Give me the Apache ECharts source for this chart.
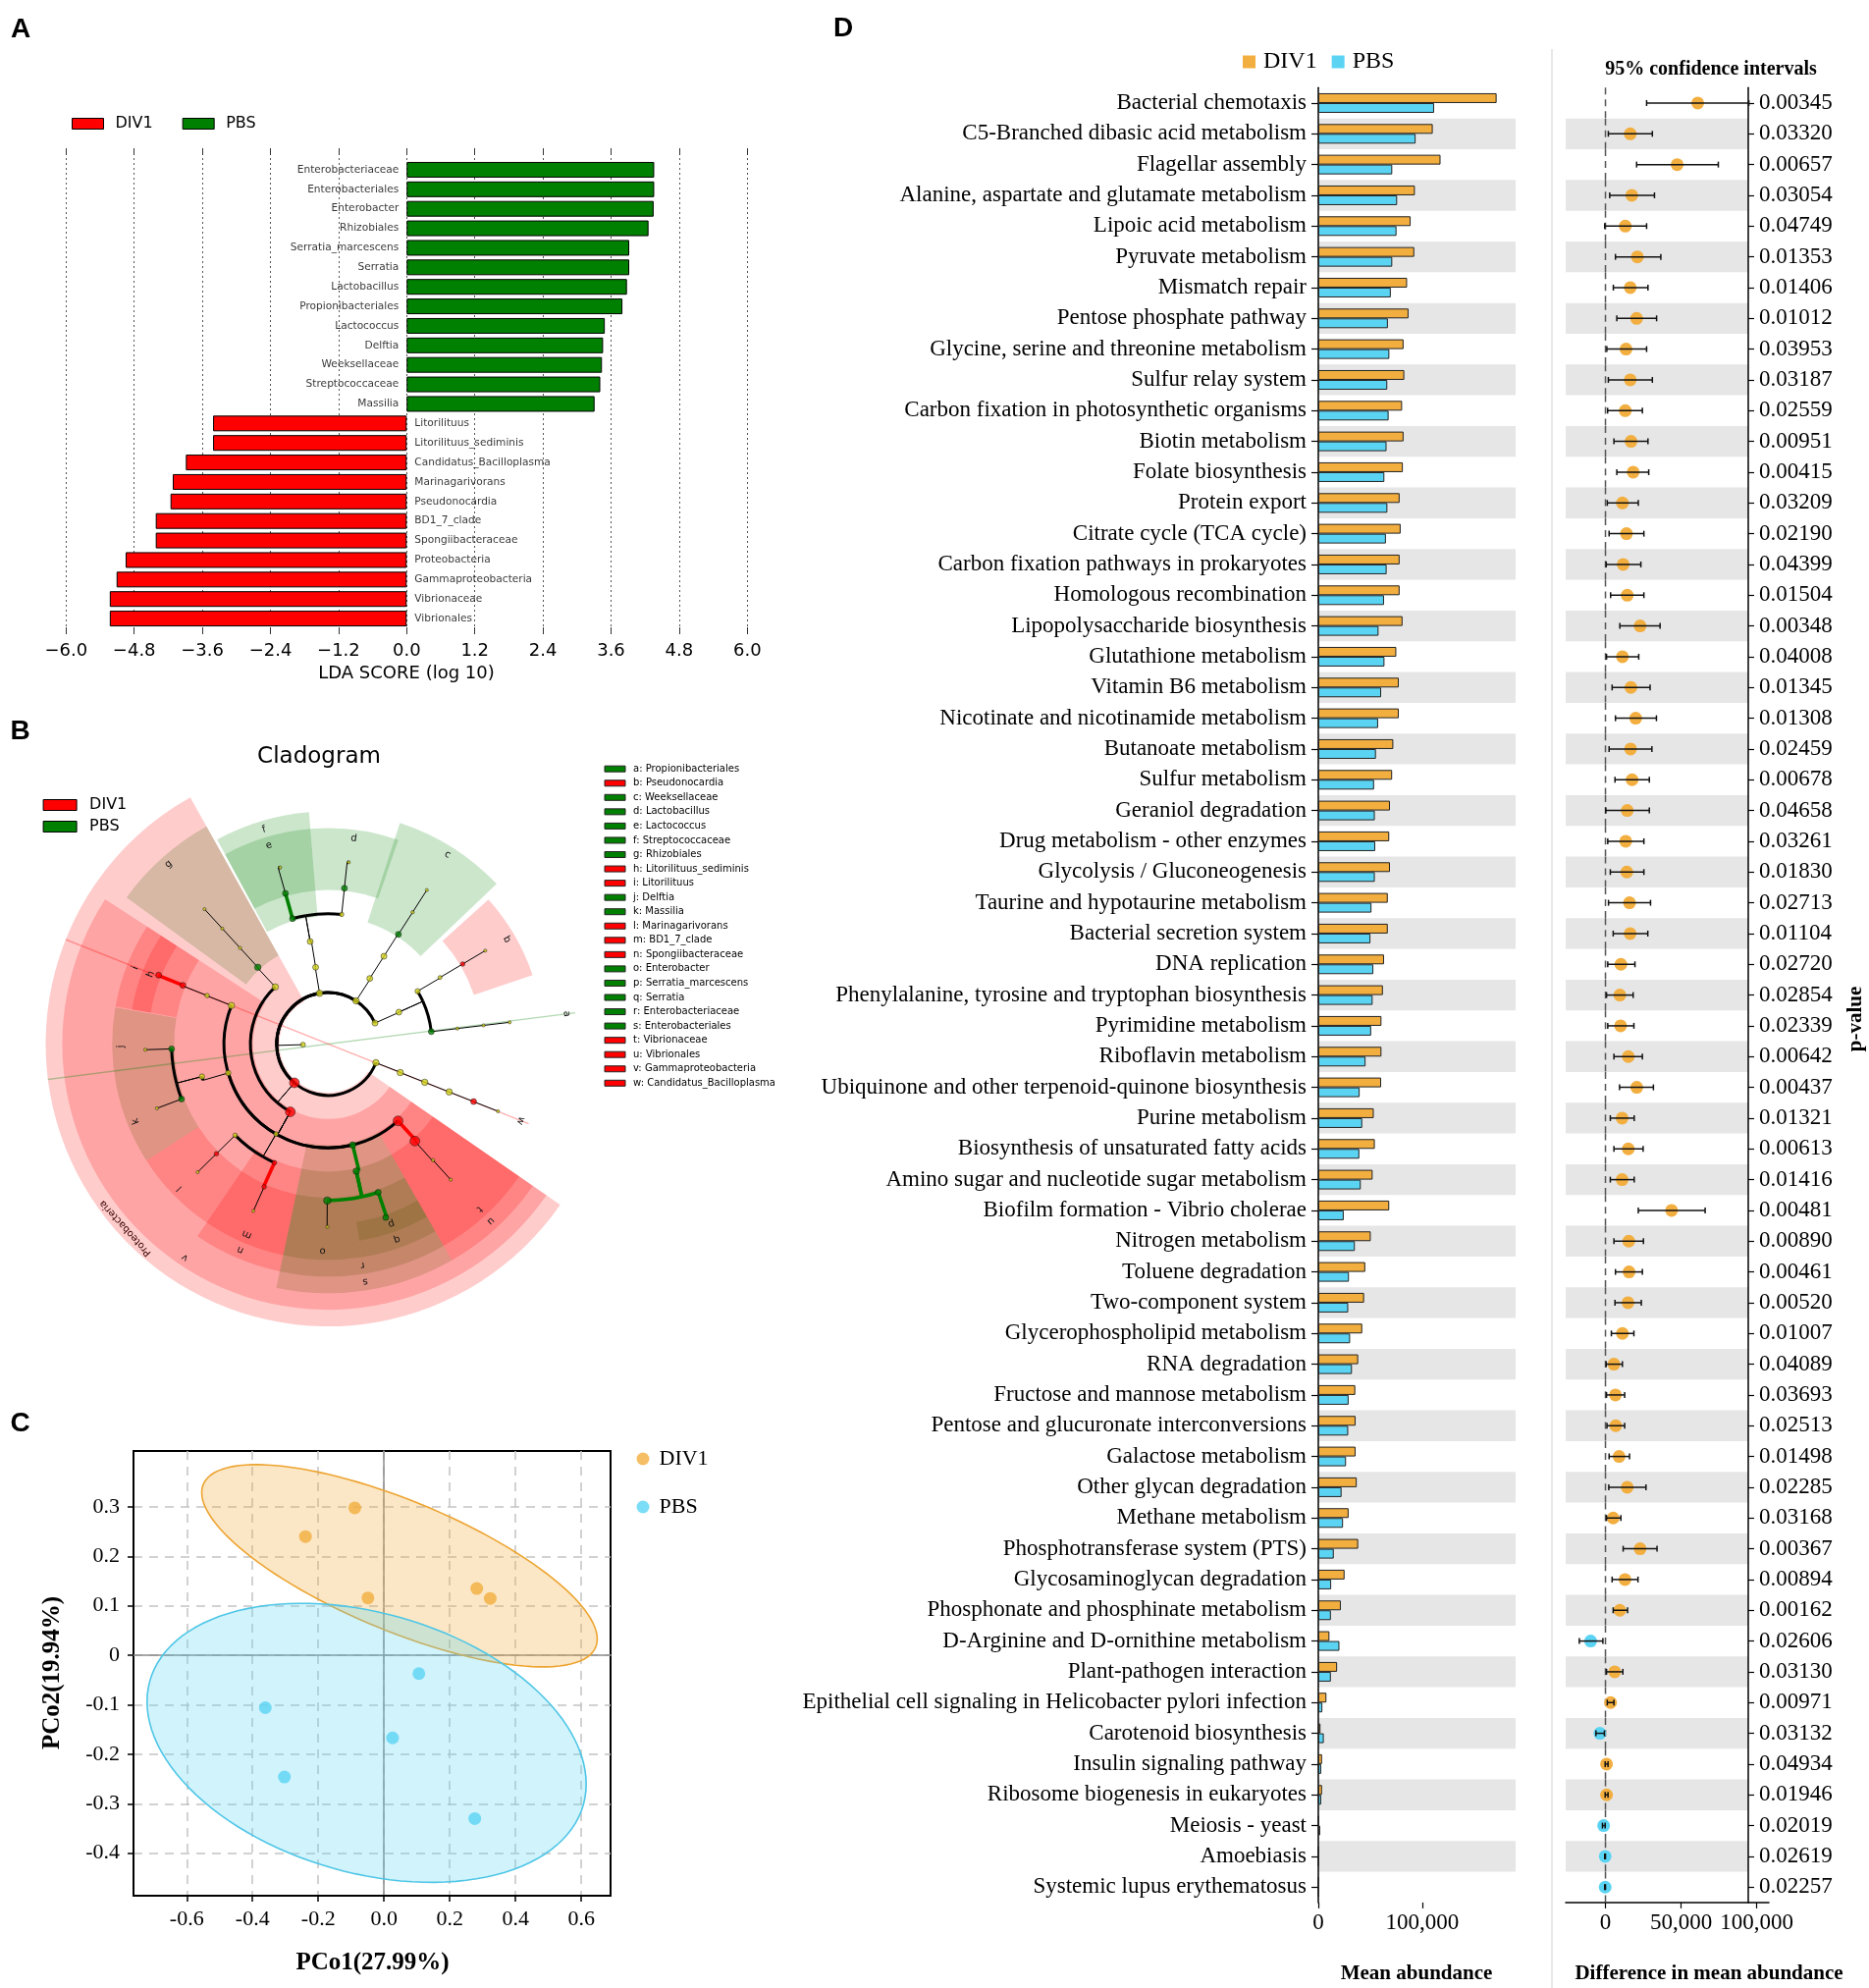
<!DOCTYPE html>
<html><head><meta charset="utf-8">
<script src="https://cdn.jsdelivr.net/npm/echarts@6/dist/echarts.min.js"></script>
<style>html,body{margin:0;padding:0;background:#fff;}
#wrap{position:relative;width:1904px;height:2025px;}
.layer{position:absolute;left:0;top:0;width:1904px;height:2025px;}</style>
</head><body><div id="wrap">
<div id="chartA" class="layer"></div><div id="chartB" class="layer"></div>
<div id="chartC" class="layer"></div><div id="chartD" class="layer"></div></div>
<script>
// ================= Panel A : LDA scores =================
const ldaTaxa = ['Enterobacteriaceae','Enterobacteriales','Enterobacter','Rhizobiales','Serratia_marcescens','Serratia','Lactobacillus','Propionibacteriales','Lactococcus','Delftia','Weeksellaceae','Streptococcaceae','Massilia','Litorilituus','Litorilituus_sediminis','Candidatus_Bacilloplasma','Marinagarivorans','Pseudonocardia','BD1_7_clade','Spongiibacteraceae','Proteobacteria','Gammaproteobacteria','Vibrionaceae','Vibrionales'];
const ldaScores = [4.36,4.36,4.35,4.26,3.92,3.92,3.88,3.80,3.49,3.46,3.44,3.41,3.31,-3.41,-3.41,-3.89,-4.12,-4.16,-4.42,-4.42,-4.95,-5.11,-5.23,-5.23];

// ================= Panel B : cladogram =================
// node: [name, parent, level, angle (deg, clockwise from 3 o'clock), group, size]
const cladeNodes = [
 ['root',null,-0.954,178.4,'n',0],
 ['Firmicutes','root',1,260.5,'n',6.5],
 ['Bacteroidetes','root',1,303,'n',6.5],
 ['Actinobacteria','root',1,336,'n',6],
 ['Tenericutes','root',1,21.4,'n',6.5],
 ['Proteobacteria','root',1,130.9,'DIV1',10],
 ['Phylum_x','root',0,178.4,'n',5],
 ['Bacilli','Firmicutes',2,260.8,'n',6],
 ['Lactobacillales','Bacilli',3,260.1,'n',6],
 ['Streptococcaceae','Lactobacillales',4,254.2,'PBS',6],
 ['Lactobacillaceae','Lactobacillales',4,276,'n',4.5],
 ['Lactococcus','Streptococcaceae',5,254.2,'PBS',6],
 ['Lactobacillus','Lactobacillaceae',5,276,'PBS',6],
 ['Lactococcus_sp','Lactococcus',6,254.8,'n',3.2],
 ['Lactobacillus_sp','Lactobacillus',6,276.5,'n',3.2],
 ['Bacteroidia','Bacteroidetes',2,302.5,'n',6],
 ['Flavobacteriales','Bacteroidia',3,302.5,'n',6],
 ['Weeksellaceae','Flavobacteriales',4,302.7,'PBS',6],
 ['Weeks_g','Weeksellaceae',5,302.7,'n',3.4],
 ['Weeks_s','Weeks_g',6,302.7,'n',3.2],
 ['Actinobacteria_c','Actinobacteria',2,335.8,'n',6],
 ['Pseudonocardiales','Actinobacteria_c',3,329.5,'n',5.3],
 ['Pseudonocardiaceae','Pseudonocardiales',4,329.3,'n',4],
 ['Pseudonocardia','Pseudonocardiaceae',5,329.3,'DIV1',4.6],
 ['Pseudo_s','Pseudonocardia',6,329.3,'n',3.2],
 ['Propionibacteriales','Actinobacteria_c',3,353.2,'PBS',6],
 ['Propi_f','Propionibacteriales',4,353.2,'n',3.2],
 ['Propi_g','Propi_f',5,353.2,'n',3.2],
 ['Propi_s','Propi_g',6,353.2,'n',3.2],
 ['Mollicutes','Tenericutes',2,21.6,'n',6.5],
 ['Molli_o','Mollicutes',3,21.6,'n',6.5],
 ['Molli_f','Molli_o',4,21.6,'n',6.5],
 ['Candidatus_Bacilloplasma','Molli_f',5,21.6,'DIV1',6],
 ['Bacillo_s','Candidatus_Bacilloplasma',6,21.6,'n',3.2],
 ['Alphaproteobacteria','Proteobacteria',2,227.2,'n',6.5],
 ['Rhizobiales','Alphaproteobacteria',3,227.5,'PBS',6.5],
 ['Rhizo_f','Rhizobiales',4,227.5,'n',3.4],
 ['Rhizo_g','Rhizo_f',5,227.5,'n',3.2],
 ['Rhizo_s','Rhizo_g',6,227.5,'n',3.2],
 ['Gammaproteobacteria','Proteobacteria',2,119.1,'DIV1',10],
 ['Alteromonadales','Gammaproteobacteria',3,201.7,'n',6.5],
 ['Alteromonadaceae','Alteromonadales',4,201.8,'n',4.6],
 ['Litorilituus','Alteromonadaceae',5,202,'DIV1',6],
 ['Litorilituus_sediminis','Litorilituus',6,202.1,'DIV1',6],
 ['Burkholderiales','Gammaproteobacteria',3,163.8,'n',5.5],
 ['Burk_f','Burkholderiales',4,165.5,'n',5.5],
 ['Delftia','Burk_f',5,178.2,'PBS',6],
 ['Massilia','Burk_f',5,159.4,'PBS',6],
 ['Delftia_s','Delftia',6,178.2,'n',3.3],
 ['Massilia_s','Massilia',6,159.4,'n',3.3],
 ['Cellvibrionales','Gammaproteobacteria',3,120,'n',4.6],
 ['Cellvibrionaceae','Cellvibrionales',4,135.5,'n',4.6],
 ['Marinagarivorans','Cellvibrionaceae',5,135.5,'DIV1',4.6],
 ['Marina_s','Marinagarivorans',6,135.5,'n',3.2],
 ['Spongiibacteraceae','Cellvibrionales',4,114.3,'DIV1',4.6],
 ['BD1_7_clade','Spongiibacteraceae',5,114.1,'DIV1',4.6],
 ['BD1_s','BD1_7_clade',6,114.1,'n',3.2],
 ['Enterobacteriales','Gammaproteobacteria',3,76.3,'PBS',6.5],
 ['Enterobacteriaceae','Enterobacteriales',4,77.5,'PBS',6.5],
 ['Enterobacter','Enterobacteriaceae',5,90.3,'PBS',7.5],
 ['Serratia','Enterobacteriaceae',5,71.3,'PBS',6],
 ['Enterobacter_s','Enterobacter',6,90.2,'n',3.2],
 ['Serratia_marcescens','Serratia',6,71.6,'PBS',6],
 ['Vibrionales','Gammaproteobacteria',3,47.7,'DIV1',10],
 ['Vibrionaceae','Vibrionales',4,48.2,'DIV1',10],
 ['Vibrio_g','Vibrionaceae',5,47.9,'n',3.4],
 ['Vibrio_s','Vibrio_g',6,47.9,'n',3.2]
];
// highlighted clades: [label, level, startAngle, endAngle]
const cladeWedges = [
 ['Proteobacteria',1,34.7,240.8],
 ['v',2,34.7,213],
 ['u',3,34.7,60.2],['t',4,34.7,60.2],
 ['s',3,60.2,102],['r',4,60.2,102],
 ['o',5,81,102],['q',5,60.2,81],['p',6,60.2,81],
 ['n',4,102,124.2],['m',5,102,124.2],
 ['l',5,124.2,147.3],['k',5,147.3,169],['j',5,169,189.7],
 ['i',5,190,213],['h',6,190,213],
 ['g',3,216,240.8],
 ['f',4,241.5,265.3],['e',5,241.5,265.3],['d',5,265.3,289],
 ['c',4,288,316.5],['b',5,318,341.4],
 ['a',3,352.8,352.8],['w',5,21.7,21.7]
];
const keyLetters = ['a','b','c','d','e','f','g','h','i','j','k','l','m','n','o','p','q','r','s','t','u','v','w'];
const keyNames = ['Propionibacteriales','Pseudonocardia','Weeksellaceae','Lactobacillus','Lactococcus','Streptococcaceae','Rhizobiales','Litorilituus_sediminis','Litorilituus','Delftia','Massilia','Marinagarivorans','BD1_7_clade','Spongiibacteraceae','Enterobacter','Serratia_marcescens','Serratia','Enterobacteriaceae','Enterobacteriales','Vibrionaceae','Vibrionales','Gammaproteobacteria','Candidatus_Bacilloplasma'];
const keyGroups = ['PBS','DIV1','PBS','PBS','PBS','PBS','PBS','DIV1','DIV1','PBS','PBS','DIV1','DIV1','DIV1','PBS','PBS','PBS','PBS','PBS','DIV1','DIV1','DIV1','DIV1'];

// ================= Panel C : PCoA =================
const pcoDiv1X = [-0.089,-0.239,-0.049,0.282,0.323];
const pcoDiv1Y = [0.298,0.240,0.116,0.135,0.115];
const pcoPbsX = [0.106,-0.361,0.026,-0.303,0.276];
const pcoPbsY = [-0.037,-0.106,-0.167,-0.246,-0.330];
const ellipseCx = [0.047,-0.053];
const ellipseCy = [0.181,-0.177];
const ellipseSxx = [0.3618,0.446];
const ellipseSxy = [-0.089,-0.0556];
const ellipseSyy = [0.0418,0.0795];
const pcoXTicks = [-0.6,-0.4,-0.2,0,0.2,0.4,0.6];
const pcoYTicks = [-0.4,-0.3,-0.2,-0.1,0,0.1,0.2,0.3];

// ================= Panel D : extended error bar =================
const pathways = ['Bacterial chemotaxis','C5-Branched dibasic acid metabolism','Flagellar assembly','Alanine, aspartate and glutamate metabolism','Lipoic acid metabolism','Pyruvate metabolism','Mismatch repair','Pentose phosphate pathway','Glycine, serine and threonine metabolism','Sulfur relay system','Carbon fixation in photosynthetic organisms','Biotin metabolism','Folate biosynthesis','Protein export','Citrate cycle (TCA cycle)','Carbon fixation pathways in prokaryotes','Homologous recombination','Lipopolysaccharide biosynthesis','Glutathione metabolism','Vitamin B6 metabolism','Nicotinate and nicotinamide metabolism','Butanoate metabolism','Sulfur metabolism','Geraniol degradation','Drug metabolism - other enzymes','Glycolysis / Gluconeogenesis','Taurine and hypotaurine metabolism','Bacterial secretion system','DNA replication','Phenylalanine, tyrosine and tryptophan biosynthesis','Pyrimidine metabolism','Riboflavin metabolism','Ubiquinone and other terpenoid-quinone biosynthesis','Purine metabolism','Biosynthesis of unsaturated fatty acids','Amino sugar and nucleotide sugar metabolism','Biofilm formation - Vibrio cholerae','Nitrogen metabolism','Toluene degradation','Two-component system','Glycerophospholipid metabolism','RNA degradation','Fructose and mannose metabolism','Pentose and glucuronate interconversions','Galactose metabolism','Other glycan degradation','Methane metabolism','Phosphotransferase system (PTS)','Glycosaminoglycan degradation','Phosphonate and phosphinate metabolism','D-Arginine and D-ornithine metabolism','Plant-pathogen interaction','Epithelial cell signaling in Helicobacter pylori infection','Carotenoid biosynthesis','Insulin signaling pathway','Ribosome biogenesis in eukaryotes','Meiosis - yeast','Amoebiasis','Systemic lupus erythematosus'];
const div1Mean = [171700,110200,117700,93000,88900,92400,85500,86900,82100,82800,80700,82100,81400,78300,79300,78300,78300,81100,75100,77500,77500,72200,71100,69000,68300,69000,66900,66900,63300,62200,60800,60800,60500,53400,54400,52300,68300,50500,45200,44100,42300,38400,35600,35900,35900,37000,29200,38400,25300,21700,10700,18100,7800,2100,3600,3600,300,100,50];
const pbsMean = [111500,93700,71200,75900,75300,71200,69800,67000,68400,66400,67700,65700,63600,66500,65100,65800,63300,58000,63700,60500,57600,55500,53700,54400,54800,54400,51200,50200,53000,52300,50900,45500,39800,42300,39500,40900,24500,35200,29500,28800,30600,32400,29200,28800,26700,22400,23800,14900,12400,12100,20300,12100,3900,5300,2800,2800,1800,300,200];
const meanDiff = [61000,16400,47400,17400,13100,21100,16400,20600,13600,16400,13100,16900,18300,11200,13900,11700,14400,22900,11200,16800,20000,16600,17600,14400,13400,14100,15900,16300,10200,9500,10000,15100,20700,11000,15100,11000,43700,15400,15600,14900,11200,5600,6600,6800,9000,14400,5100,22900,12900,9500,-9800,6100,3400,-3700,700,700,-1200,-200,-200];
const ciLow = [27200,1900,20600,2800,-500,6600,5200,7500,900,1900,1400,5600,7500,1200,2400,500,3400,9500,700,4400,6600,2400,6300,200,1500,3200,2000,5100,1500,700,1500,5600,9300,3200,5600,3200,21700,5600,6600,6300,3900,500,700,1000,2400,2200,700,11700,4400,5100,-17300,700,1200,-6300,-200,-200,-2000,-500,-500];
const ciHigh = [94800,31000,74600,32400,27200,36600,28100,33800,27200,31000,24400,28100,28600,21700,25400,23400,25400,36100,22000,29500,33700,30700,29000,29000,25400,25400,29800,28000,19500,18300,18800,24400,31700,19000,24900,19000,65900,25100,24400,23700,18800,11200,12700,12700,15900,26800,10200,34100,21500,14600,-1700,11500,5600,-700,1700,1700,-200,0,0];
const pValues = ['0.00345','0.03320','0.00657','0.03054','0.04749','0.01353','0.01406','0.01012','0.03953','0.03187','0.02559','0.00951','0.00415','0.03209','0.02190','0.04399','0.01504','0.00348','0.04008','0.01345','0.01308','0.02459','0.00678','0.04658','0.03261','0.01830','0.02713','0.01104','0.02720','0.02854','0.02339','0.00642','0.00437','0.01321','0.00613','0.01416','0.00481','0.00890','0.00461','0.00520','0.01007','0.04089','0.03693','0.02513','0.01498','0.02285','0.03168','0.00367','0.00894','0.00162','0.02606','0.03130','0.00971','0.03132','0.04934','0.01946','0.02019','0.02619','0.02257'];
const abundanceTicks = [0,100000];
const diffTicks = [0,50000,100000];

// ================= styling constants =================
const ORANGE = '#F2AE3F', CYAN = '#5BD4F4';
const RED = '#FF0000', GREEN = '#008000', YELLOW = '#d2d21c';
const SERIF = 'Liberation Serif', SANS = 'DejaVu Sans';
const groupColor = {DIV1: RED, PBS: GREEN};
const wedgeColor = {DIV1: 'rgba(255,0,0,0.2)', PBS: 'rgba(0,128,0,0.2)'};
const lineColor = {DIV1: 'rgba(255,0,0,0.3)', PBS: 'rgba(0,128,0,0.3)'};
const R_MIN = -0.954, R_MAX = 9.787;
const outerLevel = L => R_MAX - 0.633 * (L - 1);
const fmtComma = v => Math.round(v).toLocaleString('en-US');
const serifLabel = size => ({fontFamily:SERIF, fontSize:size, color:'#000'});
const txt = (x, y, text, font, rot, align) => {
  const o = {type:'text', x, y, style:{text, font, fill:'#000', align:align||'center', verticalAlign:'middle'}};
  if (rot !== undefined) o.rotation = rot;
  return o;
};
function draw(id, option) {
  try {
    const c = echarts.init(document.getElementById(id), null, {width:1904, height:2025});
    c.setOption(option);
  } catch (e) { console.error('panel ' + id + ' failed: ' + e.message); }
}

// ---------------- chart A ----------------
draw('chartA', {
  backgroundColor:'#fff', animation:false,
  textStyle:{fontFamily:SANS, color:'#000'},
  grid:[
    {left:67.3, top:163, width:694, height:477, outerBoundsMode:'none'},
    {left:67.3, top:151, width:694, height:495, outerBoundsMode:'none'}
  ],
  xAxis:[
    {gridIndex:0, type:'value', min:-6, max:6, show:false},
    {gridIndex:1, type:'value', min:-6, max:6, interval:1.2, position:'bottom',
      axisLine:{show:false}, axisTick:{show:true, inside:true, length:7, lineStyle:{color:'#333', width:1}},
      axisLabel:{fontFamily:SANS, fontSize:18, color:'#000', margin:8, formatter:v => Math.abs(v) < 1e-9 ? '0.0' : (v < 0 ? '\u2212' : '') + Math.abs(v).toFixed(1)},
      splitLine:{show:true, lineStyle:{color:'#555', type:[2,3], width:1}}},
    {gridIndex:1, type:'value', min:-6, max:6, interval:1.2, position:'top',
      axisLine:{show:false}, axisTick:{show:true, inside:true, length:7, lineStyle:{color:'#333', width:1}},
      axisLabel:{show:false}, splitLine:{show:false}}
  ],
  yAxis:[
    {gridIndex:0, type:'category', data:ldaTaxa, inverse:true, show:false},
    {gridIndex:1, type:'value', min:0, max:1, show:false}
  ],
  legend:{left:73, top:118, padding:0, orient:'horizontal', itemWidth:32, itemHeight:11, itemGap:30, selectedMode:false,
    textStyle:{fontFamily:SANS, fontSize:16, color:'#000', padding:[0,0,0,7]},
    data:[{name:'DIV1', icon:'rect', itemStyle:{color:RED, borderColor:'#000', borderWidth:1}},
          {name:'PBS', icon:'rect', itemStyle:{color:GREEN, borderColor:'#000', borderWidth:1}}]},
  graphic:[
    txt(21, 30, 'A', 'bold 28px "Liberation Sans"'),
    txt(414, 686, 'LDA SCORE (log 10)', '18px "DejaVu Sans"')
  ],
  series:[
    {type:'bar', name:'PBS', xAxisIndex:0, yAxisIndex:0, barWidth:16, barGap:'-100%',
      data:ldaScores.map(v => v > 0 ? v : '-'),
      itemStyle:{color:GREEN, borderColor:'#000', borderWidth:1}},
    {type:'bar', name:'DIV1', xAxisIndex:0, yAxisIndex:0, barWidth:16, barGap:'-100%',
      data:ldaScores.map(v => v < 0 ? v : '-'),
      itemStyle:{color:RED, borderColor:'#000', borderWidth:1}},
    {type:'scatter', name:'ldaLabels', xAxisIndex:0, yAxisIndex:0, symbolSize:1, silent:true,
      itemStyle:{color:'rgba(0,0,0,0)'},
      data:ldaTaxa.map((t, i) => ({value:[0, i], label:{position: ldaScores[i] > 0 ? 'left' : 'right'}})),
      label:{show:true, distance:7.5, fontFamily:SANS, fontSize:10.6, color:'#000', formatter:p => ldaTaxa[p.dataIndex]}}
  ]
});

// ---------------- chart B ----------------
const nodeIndex = {};
cladeNodes.forEach((n, i) => nodeIndex[n[0]] = i);
const groupOfLetter = {};
keyLetters.forEach((l, i) => groupOfLetter[l] = keyGroups[i]);
const wedgeGroup = w => w[0] === 'Proteobacteria' ? 'DIV1' : groupOfLetter[w[0]];
// deepest clades are painted first, the shallower (phylum/class) shading is laid over them
const wedgeOrder = cladeWedges.map((w, i) => i).sort((a, b) => {
  const wa = cladeWedges[a], wb = cladeWedges[b];
  const la = wa[2] === wa[3] ? -10 : wa[1], lb = wb[2] === wb[3] ? -10 : wb[1];
  return lb - la;
});
let cladeEdges = [];
cladeNodes.forEach(n => {
  if (n[1] === null) return;
  const p = cladeNodes[nodeIndex[n[1]]];
  if (p[1] === null) {
    cladeEdges.push({kind:'radial', la:1, lb:n[2], ang:n[3], color:'#000', width:1, colored:false});
    cladeEdges.push({kind:'arc', l:1, a:p[3], b:n[3], color:'#000', width:3, colored:false});
  } else {
    const colored = p[2] >= 3 && p[4] !== 'n' && p[4] === n[4];
    const col = colored ? groupColor[n[4]] : '#000';
    cladeEdges.push({kind:'radial', la:p[2], lb:n[2], ang:p[3], color:col, width:colored?3.6:1, colored});
    cladeEdges.push({kind:'arc', l:n[2], a:p[3], b:n[3], color:col, width:colored?3.6:3, colored});
  }
});
cladeEdges = cladeEdges.filter(e => !e.colored).concat(cladeEdges.filter(e => e.colored));
const keyGraphics = [];
keyLetters.forEach((l, i) => {
  const y = 783.2 + i * 14.55;
  keyGraphics.push({type:'rect', shape:{x:616, y:y-3, width:21, height:6}, style:{fill:groupColor[keyGroups[i]], stroke:'#222', lineWidth:1}});
  keyGraphics.push(txt(645, y, l + ': ' + keyNames[i], '10px "DejaVu Sans"', undefined, 'left'));
});
draw('chartB', {
  animation:false,
  textStyle:{fontFamily:SANS, color:'#000'},
  polar:{center:[334.2, 1063.4], radius:287.7},
  angleAxis:{type:'value', min:0, max:360, startAngle:0, clockwise:true, show:false},
  radiusAxis:{type:'value', min:R_MIN, max:R_MAX, show:false},
  legend:{left:43.6, top:812, padding:0, orient:'vertical', itemWidth:34, itemHeight:11, itemGap:6, selectedMode:false,
    textStyle:{fontFamily:SANS, fontSize:16, color:'#000', padding:[0,0,0,8]},
    data:[{name:'DIV1', icon:'rect', itemStyle:{color:RED, borderColor:'#000', borderWidth:1}},
          {name:'PBS', icon:'rect', itemStyle:{color:GREEN, borderColor:'#000', borderWidth:1}}]},
  graphic:[txt(20.5, 745, 'B', 'bold 28px "Liberation Sans"'), txt(325, 771, 'Cladogram', '23px "DejaVu Sans"')].concat(keyGraphics),
  series:[
    {type:'custom', name:'DIV1', coordinateSystem:'polar', z:1, silent:true,
      data:wedgeOrder.map(i => [cladeWedges[i][1], (cladeWedges[i][2] + cladeWedges[i][3]) / 2]),
      renderItem:(params, api) => {
        const w = cladeWedges[wedgeOrder[params.dataIndex]];
        const c0 = api.coord([R_MIN, 0]);
        const cx = c0[0], cy = c0[1];
        const g = wedgeGroup(w);
        const rad = L => { const p = api.coord([L, 0]); return Math.hypot(p[0] - cx, p[1] - cy); };
        if (w[2] === w[3]) {
          const p1 = api.coord([outerLevel(w[1]), w[2]]), p2 = api.coord([outerLevel(1), w[2] + 180]);
          return {type:'line', shape:{x1:p1[0], y1:p1[1], x2:p2[0], y2:p2[1]}, style:{stroke:lineColor[g], lineWidth:1.4}};
        }
        return {type:'sector', shape:{cx, cy, r0:rad(w[1] - 0.1), r:rad(outerLevel(w[1])),
          startAngle:w[2] * Math.PI / 180, endAngle:w[3] * Math.PI / 180, clockwise:true},
          style:{fill:wedgeColor[g]}};
      }},
    {type:'custom', name:'PBS', coordinateSystem:'polar', z:3, silent:true,
      data:cladeEdges.map(e => e.kind === 'radial' ? [e.lb, e.ang] : [e.l, e.b]),
      renderItem:(params, api) => {
        const e = cladeEdges[params.dataIndex];
        const c0 = api.coord([R_MIN, 0]);
        const cx = c0[0], cy = c0[1];
        if (e.kind === 'radial') {
          const p1 = api.coord([e.la, e.ang]), p2 = api.coord([e.lb, e.ang]);
          return {type:'line', shape:{x1:p1[0], y1:p1[1], x2:p2[0], y2:p2[1]}, style:{stroke:e.color, lineWidth:e.width}};
        }
        const p = api.coord([e.l, 0]);
        const r = Math.hypot(p[0] - cx, p[1] - cy);
        const a0 = Math.min(e.a, e.b) * Math.PI / 180, a1 = Math.max(e.a, e.b) * Math.PI / 180;
        if (a1 - a0 < 1e-4) return {type:'group', children:[]};
        return {type:'arc', shape:{cx, cy, r, startAngle:a0, endAngle:a1, clockwise:true},
          style:{stroke:e.color, lineWidth:e.width, fill:null}};
      }},
    {type:'scatter', name:'nodes', coordinateSystem:'polar', z:4, silent:true,
      data:cladeNodes.filter(n => n[1] !== null).map(n => ({value:[n[2], n[3]], symbolSize:n[5],
        itemStyle:{color: n[4] === 'n' ? YELLOW : groupColor[n[4]], borderColor:'#111', borderWidth:0.6}}))},
    {type:'custom', name:'cladeLabels', coordinateSystem:'polar', z:5, silent:true,
      data:cladeWedges.map(w => [outerLevel(w[1]) - 0.33, (w[2] + w[3]) / 2]),
      renderItem:(params, api) => {
        const w = cladeWedges[params.dataIndex];
        const mid = (w[2] + w[3]) / 2;
        const p = api.coord([outerLevel(w[1]) - 0.33, mid]);
        return {type:'text', x:p[0], y:p[1], rotation:-(mid + 90) * Math.PI / 180,
          style:{text:w[0], fill: w[0] === 'Proteobacteria' ? '#3a0000' : '#111', fontSize:10, fontFamily:SANS, align:'center', verticalAlign:'middle'}};
      }}
  ]
});

// ---------------- chart C ----------------
draw('chartC', {
  animation:false,
  textStyle:{fontFamily:SERIF, color:'#000'},
  grid:{left:136, top:1478, width:486, height:453, show:true, borderColor:'#000', borderWidth:2, outerBoundsMode:'none'},
  xAxis:[
    {type:'value', min:-0.762, max:0.689,
      axisLine:{onZero:false, lineStyle:{color:'#000', width:2}},
      axisTick:{show:true, length:6, customValues:pcoXTicks, lineStyle:{color:'#000', width:1.5}},
      axisLabel:Object.assign(serifLabel(22), {margin:13, customValues:pcoXTicks, formatter:v => v.toFixed(1)}),
      splitLine:{show:true, lineStyle:{color:'#c4c4c4', type:[9,7], width:1.5}}},
    {type:'value', min:-0.762, max:0.689, position:'bottom',
      axisLine:{show:true, onZero:true, onZeroAxisIndex:1, lineStyle:{color:'#8c8c8c', width:1.5}},
      axisTick:{show:false}, axisLabel:{show:false}, splitLine:{show:false}}
  ],
  yAxis:[
    {type:'value', min:-0.486, max:0.413,
      axisLine:{onZero:false, lineStyle:{color:'#000', width:2}},
      axisTick:{show:true, length:6, customValues:pcoYTicks, lineStyle:{color:'#000', width:1.5}},
      axisLabel:Object.assign(serifLabel(22), {margin:14, customValues:pcoYTicks, formatter:v => Math.abs(v) < 1e-9 ? '0' : v.toFixed(1)}),
      splitLine:{show:true, lineStyle:{color:'#c4c4c4', type:[9,7], width:1.5}}},
    {type:'value', min:-0.486, max:0.413, position:'left',
      axisLine:{show:true, onZero:true, onZeroAxisIndex:1, lineStyle:{color:'#8c8c8c', width:1.5}},
      axisTick:{show:false}, axisLabel:{show:false}, splitLine:{show:false}}
  ],
  legend:{left:648.5, top:1475, padding:0, orient:'vertical', itemWidth:13, itemHeight:13, itemGap:27, selectedMode:false,
    textStyle:{fontFamily:SERIF, fontSize:22, color:'#000', padding:[0,0,0,5]},
    data:[{name:'DIV1', icon:'circle', itemStyle:{color:ORANGE, borderWidth:0}},
          {name:'PBS', icon:'circle', itemStyle:{color:CYAN, borderWidth:0}}]},
  graphic:[
    txt(20.5, 1450, 'C', 'bold 28px "Liberation Sans"'),
    txt(379.5, 2000, 'PCo1(27.99%)', 'bold 25px "Liberation Serif"'),
    txt(54, 1704, 'PCo2(19.94%)', 'bold 25px "Liberation Serif"', Math.PI / 2)
  ],
  series:[
    {type:'custom', name:'ellipse', xAxisIndex:0, yAxisIndex:0, z:1, silent:true,
      data:ellipseCx.map((c, i) => [c, ellipseCy[i]]),
      renderItem:(params, api) => {
        const i = params.dataIndex;
        const L11 = Math.sqrt(ellipseSxx[i]), L21 = ellipseSxy[i] / L11, L22 = Math.sqrt(ellipseSyy[i] - L21 * L21);
        const pts = [];
        for (let k = 0; k < 120; k++) {
          const t = k / 120 * Math.PI * 2;
          pts.push(api.coord([ellipseCx[i] + L11 * Math.cos(t), ellipseCy[i] + L21 * Math.cos(t) + L22 * Math.sin(t)]));
        }
        const fill = i === 0 ? 'rgba(242,174,63,0.3)' : 'rgba(91,212,244,0.28)';
        const stroke = i === 0 ? '#EDA431' : '#4FC6E6';
        return {type:'polygon', shape:{points:pts}, style:{fill, stroke, lineWidth:1.6}};
      }},
    {type:'scatter', name:'DIV1', xAxisIndex:0, yAxisIndex:0, z:3, symbolSize:13,
      itemStyle:{color:ORANGE}, data:pcoDiv1X.map((x, i) => [x, pcoDiv1Y[i]])},
    {type:'scatter', name:'PBS', xAxisIndex:0, yAxisIndex:0, z:3, symbolSize:13,
      itemStyle:{color:CYAN}, data:pcoPbsX.map((x, i) => [x, pcoPbsY[i]])}
  ]
});

// ---------------- chart D ----------------
draw('chartD', {
  animation:false,
  textStyle:{fontFamily:SERIF, color:'#000'},
  grid:[
    {left:1343, top:89.3, width:201, height:1848.6, outerBoundsMode:'none'},
    {left:1595, top:89.3, width:186, height:1848.6, outerBoundsMode:'none'},
    {left:1595, top:89.3, width:207, height:1848.6, outerBoundsMode:'none'}
  ],
  xAxis:[
    {gridIndex:0, type:'value', min:0, max:190000,
      axisLine:{onZero:false, lineStyle:{color:'#000', width:1.5}},
      axisTick:{show:true, length:6, customValues:abundanceTicks, lineStyle:{color:'#000', width:1.2}},
      axisLabel:Object.assign(serifLabel(23), {margin:10, customValues:abundanceTicks, formatter:fmtComma}),
      splitLine:{show:false}},
    {gridIndex:1, type:'value', min:-26300, max:94400, show:false},
    {gridIndex:2, type:'value', min:-26300, max:108030,
      axisLine:{onZero:false, lineStyle:{color:'#000', width:1.5}},
      axisTick:{show:true, length:6, customValues:diffTicks, lineStyle:{color:'#000', width:1.2}},
      axisLabel:Object.assign(serifLabel(23), {margin:10, customValues:diffTicks, formatter:fmtComma}),
      splitLine:{show:false}}
  ],
  yAxis:[
    {gridIndex:0, type:'category', data:pathways, inverse:true,
      axisLine:{onZero:false, lineStyle:{color:'#000', width:1.5}},
      axisTick:{show:true, alignWithLabel:true, length:7, lineStyle:{color:'#000', width:1.2}},
      axisLabel:Object.assign(serifLabel(23), {interval:0, margin:12}),
      splitArea:{show:true, interval:0, areaStyle:{color:['rgba(255,255,255,0)','#e6e6e6']}}},
    {gridIndex:1, type:'category', data:pValues, inverse:true, position:'right',
      axisLine:{onZero:false, lineStyle:{color:'#000', width:1.5}},
      axisTick:{show:true, alignWithLabel:true, length:6, lineStyle:{color:'#000', width:1.2}},
      axisLabel:Object.assign(serifLabel(23), {interval:0, margin:11}),
      splitArea:{show:true, interval:0, areaStyle:{color:['rgba(255,255,255,0)','#e6e6e6']}}},
    {gridIndex:2, type:'value', min:0, max:1, show:false}
  ],
  legend:{left:1266, top:51, padding:0, orient:'horizontal', itemWidth:13, itemHeight:13, itemGap:15, selectedMode:false,
    textStyle:{fontFamily:SERIF, fontSize:24, color:'#000', padding:[0,0,0,3]},
    data:[{name:'DIV1', icon:'rect', itemStyle:{color:ORANGE, borderWidth:0}},
          {name:'PBS', icon:'rect', itemStyle:{color:CYAN, borderWidth:0}}]},
  graphic:[
    txt(859, 29, 'D', 'bold 28px "Liberation Sans"'),
    txt(1743, 71, '95% confidence intervals', 'bold 20px "Liberation Serif"'),
    txt(1443, 2011, 'Mean abundance', 'bold 21px "Liberation Serif"'),
    txt(1741, 2011, 'Difference in mean abundance', 'bold 21px "Liberation Serif"'),
    txt(1891, 1038, 'p-value', 'bold 21px "Liberation Serif"', Math.PI / 2),
    {type:'line', shape:{x1:1581, y1:50, x2:1581, y2:2025}, style:{stroke:'#d0d0d0', lineWidth:1}}
  ],
  series:[
    {type:'bar', name:'DIV1', xAxisIndex:0, yAxisIndex:0, barWidth:10, barGap:'0%', data:div1Mean,
      itemStyle:{color:ORANGE, borderColor:'#222', borderWidth:1}},
    {type:'bar', name:'PBS', xAxisIndex:0, yAxisIndex:0, barWidth:10, barGap:'0%', data:pbsMean,
      itemStyle:{color:CYAN, borderColor:'#222', borderWidth:1}},
    {type:'custom', name:'ci', xAxisIndex:1, yAxisIndex:1, z:4, silent:true,
      data:meanDiff.map((d, i) => [d, ciLow[i], ciHigh[i], i]),
      encode:{x:[0,1,2], y:3},
      renderItem:(params, api) => {
        const d = api.value(0), lo = api.value(1), hi = api.value(2), row = api.value(3);
        const pc = api.coord([d, row]), pl = api.coord([lo, row]), ph = api.coord([hi, row]);
        const zt = api.coord([0, row]);
        const half = api.size([0, 1])[1] / 2;
        const st = {stroke:'#111', lineWidth:1.5};
        return {type:'group', children:[
          {type:'line', shape:{x1:zt[0], y1:zt[1]-half, x2:zt[0], y2:zt[1]+half}, style:{stroke:'#555', lineWidth:1.5, lineDash:[7,5]}},
          {type:'circle', shape:{cx:pc[0], cy:pc[1], r:6.5}, style:{fill: d >= 0 ? ORANGE : CYAN}},
          {type:'line', shape:{x1:pl[0], y1:pl[1], x2:ph[0], y2:ph[1]}, style:st},
          {type:'line', shape:{x1:pl[0], y1:pl[1]-3, x2:pl[0], y2:pl[1]+3}, style:st},
          {type:'line', shape:{x1:ph[0], y1:ph[1]-3, x2:ph[0], y2:ph[1]+3}, style:st}
        ]};
      }}
  ]
});
</script>
</body></html>
